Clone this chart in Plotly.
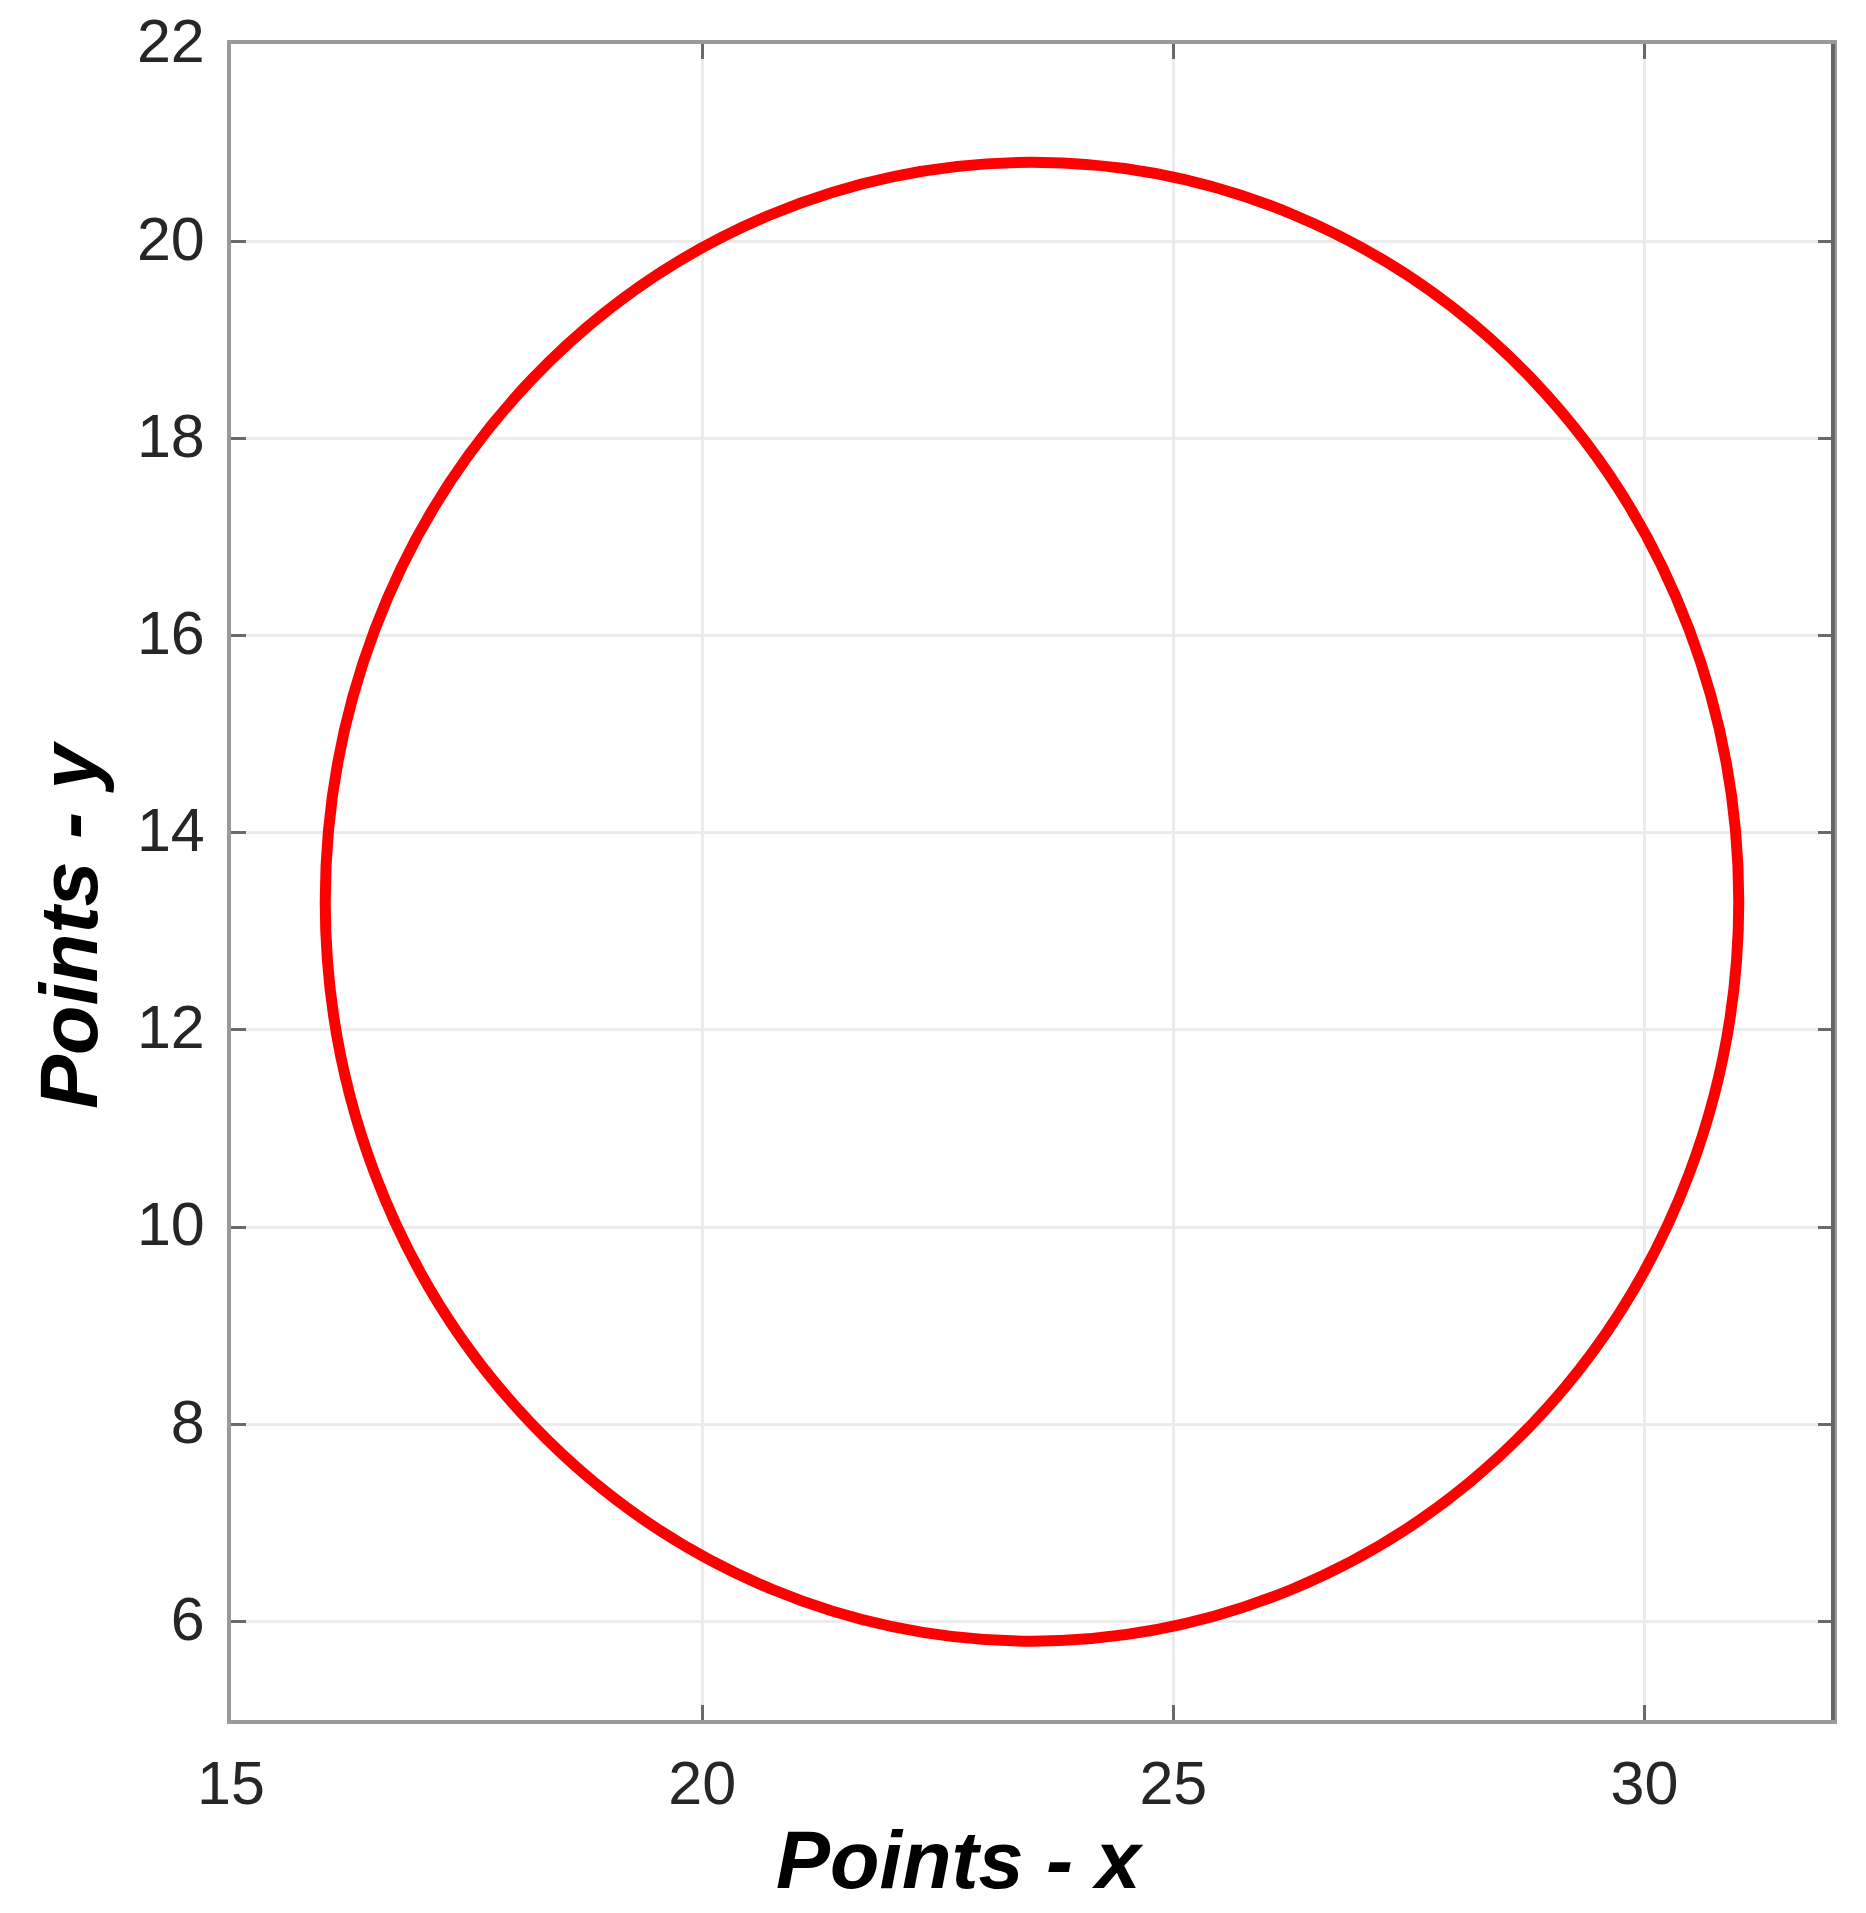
import plotly.graph_objects as go

# Data
circle_center_x = 23.5
circle_center_y = 13.3
circle_radius = 7.5
x_ticks = [15, 20, 25, 30]
y_ticks = [6, 8, 10, 12, 14, 16, 18, 20, 22]
x_range = [15, 32]
y_range = [5, 22]
x_title = "Points - x"
y_title = "Points - y"

fig = go.Figure()
# invisible anchor trace so axes are set up
fig.add_trace(go.Scatter(x=[circle_center_x], y=[circle_center_y], mode="markers",
                         marker=dict(opacity=0), hoverinfo="skip", showlegend=False))

fig.add_shape(type="circle", xref="x", yref="y",
              x0=circle_center_x - circle_radius, x1=circle_center_x + circle_radius,
              y0=circle_center_y - circle_radius, y1=circle_center_y + circle_radius,
              line=dict(color="#ff0000", width=11), layer="above")

axis_common = dict(
    showline=True, linecolor="#9a9a9a", linewidth=4, mirror="ticks",
    ticks="inside", ticklen=15, tickwidth=3, tickcolor="#6a6a6a",
    showgrid=True, gridcolor="#ebebeb", gridwidth=3, zeroline=False,
    automargin=False, ticklabeloverflow="allow",
    tickfont=dict(family="Liberation Sans, Arial", size=61, color="#262626"),
)

fig.update_xaxes(range=x_range, tickvals=x_ticks, ticklabelstandoff=7, **axis_common)
fig.update_yaxes(range=y_range, tickvals=y_ticks, ticklabelstandoff=10,
                 ticklabelshift=-3, **axis_common)

# darker right border like the reference
fig.add_shape(type="line", xref="paper", yref="paper", x0=1, x1=1, y0=0, y1=1,
              line=dict(color="#666666", width=4), layer="above")

title_font = dict(family="Liberation Sans, Arial", size=81, color="#000000")
fig.add_annotation(text="<b><i>" + x_title + "</i></b>", xref="paper", yref="paper",
                   x=0.455, y=-0.0835, xanchor="center", yanchor="middle",
                   showarrow=False, font=title_font)
fig.add_annotation(text="<b><i>" + y_title + "</i></b>", xref="paper", yref="paper",
                   x=-0.1011, y=0.4744, xanchor="center", yanchor="middle",
                   textangle=-90, showarrow=False, font=title_font)

fig.update_layout(
    width=1858, height=1905,
    margin=dict(l=223, r=33, t=36, b=193, autoexpand=False),
    plot_bgcolor="white", paper_bgcolor="white",
    showlegend=False,
)

fig.write_html("out.html")
